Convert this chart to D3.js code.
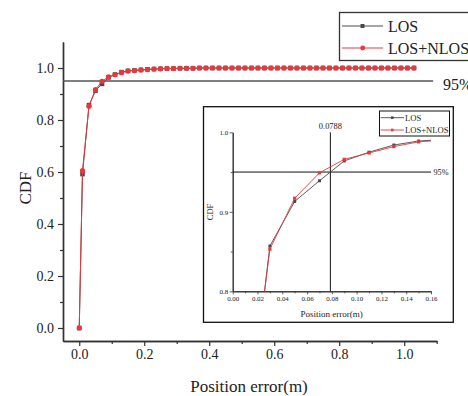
<!DOCTYPE html>
<html>
<head>
<meta charset="utf-8">
<script src="https://cdn.jsdelivr.net/npm/d3@7"></script>
<style>
  body { margin: 0; background: #fff; }
  text { font-family: "Liberation Serif", "DejaVu Serif", serif; fill: #222; }
</style>
</head>
<body>
<div id="chart"></div>
<script>
// position error (m) sample points
var errX = [0, 0.01, 0.03, 0.05, 0.07, 0.09, 0.11, 0.13, 0.15, 0.17, 0.19, 0.21, 0.23, 0.25,
            0.27, 0.29, 0.31, 0.33, 0.35, 0.37, 0.39, 0.41, 0.43, 0.45, 0.47, 0.49, 0.51,
            0.53, 0.55, 0.57, 0.59, 0.61, 0.63, 0.65, 0.67, 0.69, 0.71, 0.73, 0.75, 0.77,
            0.79, 0.81, 0.83, 0.85, 0.87, 0.89, 0.91, 0.93, 0.95, 0.97, 0.99, 1.01, 1.03];

var losCdf = [0, 0.592, 0.857, 0.913, 0.939, 0.964, 0.975, 0.984, 0.989, 0.991, 0.993, 0.995, 0.996, 0.997,
              0.998, 0.998, 0.999, 0.999, 0.999, 1, 1, 1, 1, 1, 1, 1, 1,
              1, 1, 1, 1, 1, 1, 1, 1, 1, 1, 1, 1, 1,
              1, 1, 1, 1, 1, 1, 1, 1, 1, 1, 1, 1, 1];

var nlosCdf = [0, 0.605, 0.853, 0.917, 0.949, 0.966, 0.974, 0.982, 0.988, 0.990, 0.992, 0.994, 0.996, 0.997,
               0.998, 0.998, 0.999, 0.999, 0.999, 1, 1, 1, 1, 1, 1, 1, 1,
               1, 1, 1, 1, 1, 1, 1, 1, 1, 1, 1, 1, 1,
               1, 1, 1, 1, 1, 1, 1, 1, 1, 1, 1, 1, 1];

var mainXTicks = [0, 0.2, 0.4, 0.6, 0.8, 1.0];
var mainXMinor = [0.1, 0.3, 0.5, 0.7, 0.9, 1.1];
var mainYTicks = [0, 0.2, 0.4, 0.6, 0.8, 1.0];
var mainYMinor = [0.1, 0.3, 0.5, 0.7, 0.9];
var insetXTicks = [0, 0.02, 0.04, 0.06, 0.08, 0.10, 0.12, 0.14, 0.16];
var insetXMinor = [0.01, 0.03, 0.05, 0.07, 0.09, 0.11, 0.13, 0.15];
var insetYTicks = [0.8, 0.9, 1.0];
var insetYMinor = [0.85, 0.95];

var level95 = 0.95;
var cross95 = 0.0788;
var seriesNames = ["LOS", "LOS+NLOS"];

var greyC = "#4a4a4a", redC = "#e8383d", axisC = "#333";

var width = 468, height = 396;

var svg = d3.select("#chart").append("svg")
    .attr("width", width)
    .attr("height", height);

var losData = errX.map(function(x, i){ return [x, losCdf[i]]; });
var nlosData = errX.map(function(x, i){ return [x, nlosCdf[i]]; });

// ---------- main plot ----------
var x = d3.scaleLinear().domain([-0.05, 1.1]).range([63, 436.7]);
var y = d3.scaleLinear().domain([-0.05, 1.1]).range([341, 42]);

var styleAxis = function(g, fs){
    g.select(".domain").attr("stroke", axisC).attr("stroke-width", 1.4);
    g.selectAll(".tick line").attr("stroke", axisC).attr("stroke-width", 1.2);
    g.selectAll(".tick text").style("font-family", '"Liberation Serif", serif')
        .style("font-size", fs + "px").attr("fill", "#333");
};

var gx = svg.append("g").attr("transform", "translate(0,341)")
    .call(d3.axisBottom(x).tickValues(mainXTicks).tickFormat(d3.format(".1f")).tickSize(5).tickSizeOuter(0).tickPadding(3));
styleAxis(gx, 14);
var gxm = svg.append("g").attr("transform", "translate(0,341)")
    .call(d3.axisBottom(x).tickValues(mainXMinor).tickFormat("").tickSize(3).tickSizeOuter(0));
styleAxis(gxm, 14);

var gy = svg.append("g").attr("transform", "translate(63,0)")
    .call(d3.axisLeft(y).tickValues(mainYTicks).tickFormat(d3.format(".1f")).tickSize(5).tickSizeOuter(0).tickPadding(4));
styleAxis(gy, 14);
var gym = svg.append("g").attr("transform", "translate(63,0)")
    .call(d3.axisLeft(y).tickValues(mainYMinor).tickFormat("").tickSize(3).tickSizeOuter(0));
styleAxis(gym, 14);

svg.append("text").attr("x", 249).attr("y", 392).attr("text-anchor", "middle")
    .style("font-size", "17px").text("Position error(m)");
svg.append("text").attr("transform", "translate(31,188) rotate(-90)").attr("text-anchor", "middle")
    .style("font-size", "17px").text("CDF");

// 95% line
svg.append("line")
    .attr("x1", x(-0.05)).attr("x2", x(1.089))
    .attr("y1", y(level95)).attr("y2", y(level95))
    .attr("stroke", "#555").attr("stroke-width", 1.4);
svg.append("text").attr("x", 443).attr("y", y(level95) + 9)
    .style("font-size", "16px").text("95%");

var line = d3.line().x(function(d){ return x(d[0]); }).y(function(d){ return y(d[1]); });

svg.append("path").datum(losData).attr("d", line)
    .attr("fill", "none").attr("stroke", greyC).attr("stroke-width", 1);
svg.selectAll(".losPt").data(losData).enter().append("rect")
    .attr("class", "losPt")
    .attr("x", function(d){ return x(d[0]) - 2.3; })
    .attr("y", function(d){ return y(d[1]) - 2.3; })
    .attr("width", 4.6).attr("height", 4.6)
    .attr("fill", greyC);

svg.append("path").datum(nlosData).attr("d", line)
    .attr("fill", "none").attr("stroke", redC).attr("stroke-width", 1);
svg.selectAll(".nlosPt").data(nlosData).enter().append("circle")
    .attr("class", "nlosPt")
    .attr("cx", function(d){ return x(d[0]); })
    .attr("cy", function(d){ return y(d[1]); })
    .attr("r", 2.6)
    .attr("fill", redC);

// legend
var lg = svg.append("g");
lg.append("rect").attr("x", 339.5).attr("y", 12.5).attr("width", 135).attr("height", 48)
    .attr("fill", "#fff").attr("stroke", axisC).attr("stroke-width", 1.3);
[0, 1].forEach(function(i){
    var ly = i == 0 ? 26 : 48;
    var c = i == 0 ? greyC : redC;
    lg.append("line").attr("x1", 342).attr("x2", 383).attr("y1", ly).attr("y2", ly)
        .attr("stroke", c).attr("stroke-width", 1);
    if (i == 0) {
        lg.append("rect").attr("x", 360.5).attr("y", ly - 2).attr("width", 4).attr("height", 4).attr("fill", c);
    } else {
        lg.append("circle").attr("cx", 362.7).attr("cy", ly).attr("r", 2.4).attr("fill", c);
    }
    lg.append("text").attr("x", 388).attr("y", ly + 5.5).style("font-size", "16px").text(seriesNames[i]);
});

// ---------- inset ----------
svg.append("rect").attr("x", 203.5).attr("y", 106.7).attr("width", 249.8).attr("height", 215.6)
    .attr("fill", "#fff").attr("stroke", "#111").attr("stroke-width", 1.3);

var ix = d3.scaleLinear().domain([0, 0.16]).range([232.7, 431]);
var iy = d3.scaleLinear().domain([0.8, 1.0]).range([291.3, 132.3]);

svg.append("clipPath").attr("id", "insetClip").append("rect")
    .attr("x", ix(0)).attr("y", iy(1.0)).attr("width", ix(0.16) - ix(0)).attr("height", iy(0.8) - iy(1.0));

var igx = svg.append("g").attr("transform", "translate(0," + iy(0.8) + ")")
    .call(d3.axisBottom(ix).tickValues(insetXTicks).tickFormat(d3.format(".2f")).tickSize(3).tickSizeOuter(0).tickPadding(2));
styleAxis(igx, 6.9);
var igxm = svg.append("g").attr("transform", "translate(0," + iy(0.8) + ")")
    .call(d3.axisBottom(ix).tickValues(insetXMinor).tickFormat("").tickSize(2).tickSizeOuter(0));
styleAxis(igxm, 6.9);
var igy = svg.append("g").attr("transform", "translate(" + ix(0) + ",0)")
    .call(d3.axisLeft(iy).tickValues(insetYTicks).tickFormat(d3.format(".1f")).tickSize(3).tickSizeOuter(0).tickPadding(1.5));
styleAxis(igy, 7);
var igym = svg.append("g").attr("transform", "translate(" + ix(0) + ",0)")
    .call(d3.axisLeft(iy).tickValues(insetYMinor).tickFormat("").tickSize(2).tickSizeOuter(0));
styleAxis(igym, 7);
[igx, igxm, igy, igym].forEach(function(g){
    g.select(".domain").attr("stroke-width", 1);
    g.selectAll(".tick line").attr("stroke-width", 0.8);
});

svg.append("text").attr("x", 331.7).attr("y", 317).attr("text-anchor", "middle")
    .style("font-size", "9px").text("Position error(m)");
svg.append("text").attr("transform", "translate(213,212) rotate(-90)").attr("text-anchor", "middle")
    .style("font-size", "8.5px").text("CDF");

// reference lines
svg.append("line").attr("x1", ix(0)).attr("x2", ix(0.16)).attr("y1", iy(level95)).attr("y2", iy(level95))
    .attr("stroke", "#111").attr("stroke-width", 1);
svg.append("text").attr("x", ix(0.16) + 2.5).attr("y", iy(level95) + 3)
    .style("font-size", "8.2px").text("95%");
svg.append("line").attr("x1", ix(cross95)).attr("x2", ix(cross95)).attr("y1", iy(1.0)).attr("y2", iy(0.8))
    .attr("stroke", "#111").attr("stroke-width", 1);
svg.append("text").attr("x", ix(cross95)).attr("y", iy(1.0) - 3.5).attr("text-anchor", "middle")
    .style("font-size", "8.4px").text(cross95);

var iline = d3.line().x(function(d){ return ix(d[0]); }).y(function(d){ return iy(d[1]); });
var ig = svg.append("g").attr("clip-path", "url(#insetClip)");

ig.append("path").datum(losData).attr("d", iline)
    .attr("fill", "none").attr("stroke", greyC).attr("stroke-width", 0.9);
ig.selectAll(".iLosPt").data(losData.filter(function(d){ return d[0] <= 0.16 && d[1] >= 0.8; }))
    .enter().append("rect")
    .attr("x", function(d){ return ix(d[0]) - 1.5; })
    .attr("y", function(d){ return iy(d[1]) - 1.5; })
    .attr("width", 3).attr("height", 3).attr("fill", greyC);

ig.append("path").datum(nlosData).attr("d", iline)
    .attr("fill", "none").attr("stroke", redC).attr("stroke-width", 0.9);
ig.selectAll(".iNlosPt").data(nlosData.filter(function(d){ return d[0] <= 0.16 && d[1] >= 0.8; }))
    .enter().append("rect")
    .attr("x", function(d){ return ix(d[0]) - 1.6; })
    .attr("y", function(d){ return iy(d[1]) - 1.6; })
    .attr("width", 3.2).attr("height", 3.2).attr("fill", redC);

// inset legend
var ilg = svg.append("g");
ilg.append("rect").attr("x", 379.5).attr("y", 111).attr("width", 70).attr("height", 25)
    .attr("fill", "#fff").attr("stroke", "#111").attr("stroke-width", 1);
[0, 1].forEach(function(i){
    var ly = i == 0 ? 117.7 : 130;
    var c = i == 0 ? greyC : redC;
    ilg.append("line").attr("x1", 380.7).attr("x2", 404).attr("y1", ly).attr("y2", ly)
        .attr("stroke", c).attr("stroke-width", 0.9);
    ilg.append("rect").attr("x", 391).attr("y", ly - 1.3).attr("width", 2.6).attr("height", 2.6).attr("fill", c);
    ilg.append("text").attr("x", 405).attr("y", ly + 3).style("font-size", "8.6px").text(seriesNames[i]);
});
</script>
</body>
</html>
